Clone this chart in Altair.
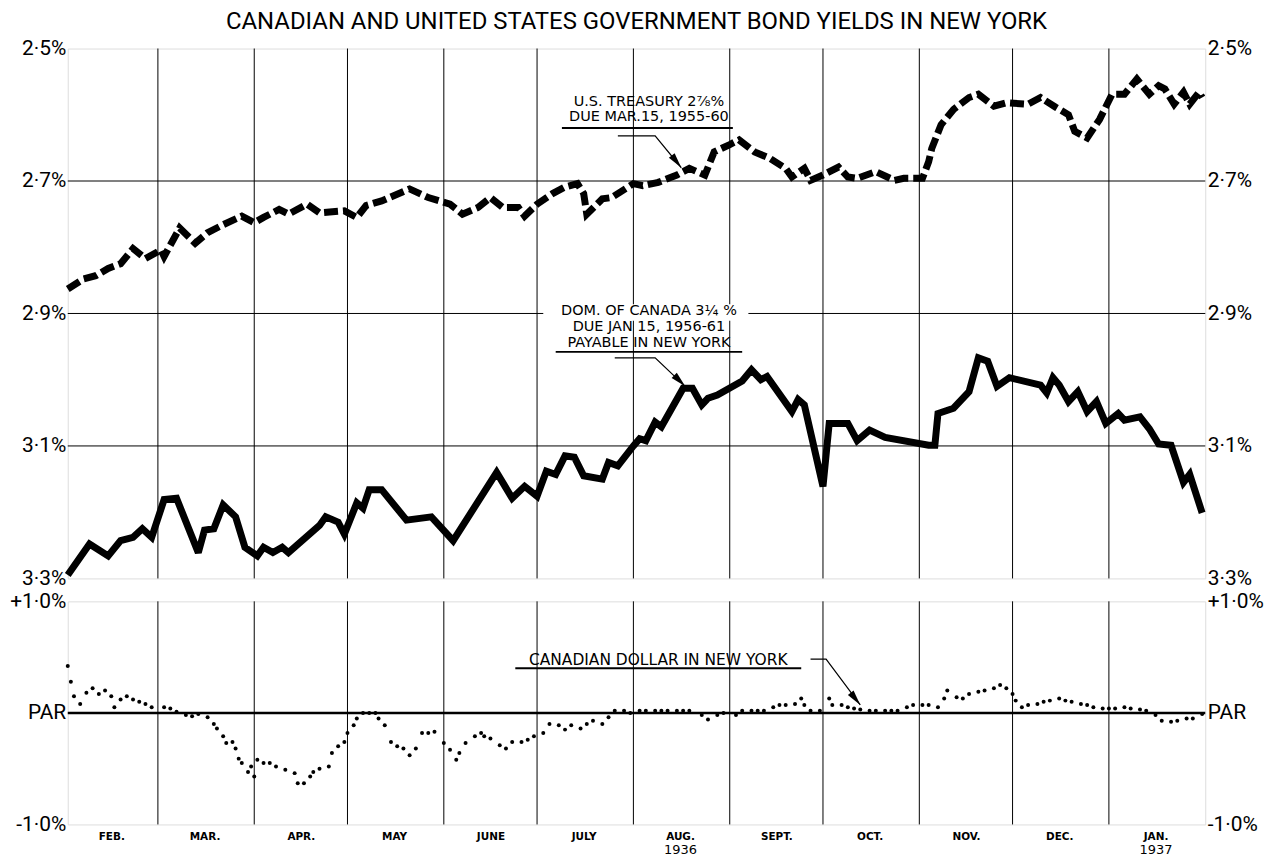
import altair as alt
import pandas as pd

TITLE = "CANADIAN AND UNITED STATES GOVERNMENT BOND YIELDS IN NEW YORK"

# U.S. Treasury 2 7/8 % (yield, %)
us_dates = ["1936-02-01", "1936-02-06", "1936-02-10", "1936-02-14", "1936-02-18", "1936-02-22", "1936-02-26",
            "1936-03-02", "1936-03-03", "1936-03-08", "1936-03-13", "1936-03-17", "1936-03-22", "1936-03-28",
            "1936-04-01", "1936-04-04", "1936-04-09", "1936-04-12", "1936-04-18", "1936-04-22", "1936-04-30",
            "1936-05-04", "1936-05-07", "1936-05-12", "1936-05-21", "1936-05-27",
            "1936-06-03", "1936-06-07", "1936-06-12", "1936-06-16", "1936-06-20", "1936-06-25", "1936-06-27",
            "1936-07-01", "1936-07-06", "1936-07-10", "1936-07-14", "1936-07-16", "1936-07-17", "1936-07-22",
            "1936-07-25", "1936-08-01",
            "1936-08-04", "1936-08-09", "1936-08-15", "1936-08-19", "1936-08-24", "1936-08-27",
            "1936-09-01", "1936-09-04", "1936-09-09", "1936-09-14", "1936-09-19", "1936-09-21", "1936-09-25",
            "1936-09-27",
            "1936-10-01", "1936-10-06", "1936-10-09", "1936-10-12", "1936-10-18", "1936-10-24", "1936-10-27",
            "1936-11-02", "1936-11-04", "1936-11-05", "1936-11-08", "1936-11-12", "1936-11-17", "1936-11-20",
            "1936-11-25", "1936-11-29",
            "1936-12-06", "1936-12-10", "1936-12-15", "1936-12-19", "1936-12-21", "1936-12-25", "1936-12-29",
            "1937-01-02", "1937-01-06", "1937-01-10", "1937-01-14", "1937-01-17", "1937-01-19", "1937-01-22",
            "1937-01-25", "1937-01-27", "1937-01-30", "1937-01-31"]
us_yield = [2.863, 2.848, 2.843, 2.832, 2.825, 2.802, 2.817,
            2.804, 2.814, 2.771, 2.794, 2.778, 2.766, 2.753,
            2.763, 2.755, 2.743, 2.750, 2.735, 2.748, 2.745,
            2.755, 2.737, 2.730, 2.712, 2.725,
            2.735, 2.750, 2.740, 2.725, 2.740, 2.740, 2.753,
            2.735, 2.719, 2.709, 2.704, 2.719, 2.750, 2.727,
            2.725, 2.704,
            2.707, 2.702, 2.691, 2.681, 2.691, 2.656,
            2.645, 2.638, 2.656, 2.666, 2.681, 2.694, 2.681,
            2.699,
            2.691, 2.679, 2.694, 2.696, 2.686, 2.699, 2.696,
            2.696, 2.671, 2.651, 2.615, 2.592, 2.574, 2.569,
            2.587, 2.582,
            2.584, 2.574, 2.589, 2.600, 2.625, 2.635, 2.607,
            2.569, 2.569, 2.546, 2.569, 2.556, 2.561, 2.584,
            2.566, 2.584, 2.566, 2.574]

# Dominion of Canada 3 1/4 % payable in New York (yield, %)
ca_dates = ["1936-02-01", "1936-02-08", "1936-02-14", "1936-02-18", "1936-02-22", "1936-02-25", "1936-02-28",
            "1936-03-03", "1936-03-07", "1936-03-14", "1936-03-16", "1936-03-19", "1936-03-22", "1936-03-26",
            "1936-03-29",
            "1936-04-02", "1936-04-04", "1936-04-07", "1936-04-10", "1936-04-12", "1936-04-22", "1936-04-24",
            "1936-04-28", "1936-04-30",
            "1936-05-04", "1936-05-06", "1936-05-08", "1936-05-12", "1936-05-20", "1936-05-28",
            "1936-06-04", "1936-06-18", "1936-06-23", "1936-06-27",
            "1936-07-01", "1936-07-04", "1936-07-07", "1936-07-10", "1936-07-13", "1936-07-16", "1936-07-22",
            "1936-07-24", "1936-07-27",
            "1936-08-01", "1936-08-03", "1936-08-05", "1936-08-08", "1936-08-10", "1936-08-17", "1936-08-20",
            "1936-08-23", "1936-08-25", "1936-08-28",
            "1936-09-05", "1936-09-08", "1936-09-11", "1936-09-13", "1936-09-21", "1936-09-23", "1936-09-25",
            "1936-10-01", "1936-10-03", "1936-10-09", "1936-10-12", "1936-10-16", "1936-10-21",
            "1936-11-04", "1936-11-06", "1936-11-07", "1936-11-12", "1936-11-17", "1936-11-20", "1936-11-23",
            "1936-11-26", "1936-11-30",
            "1936-12-10", "1936-12-12", "1936-12-14", "1936-12-16", "1936-12-19", "1936-12-22", "1936-12-25",
            "1936-12-28", "1936-12-31",
            "1937-01-04", "1937-01-06", "1937-01-11", "1937-01-14", "1937-01-17", "1937-01-21", "1937-01-25",
            "1937-01-27", "1937-01-31"]
ca_yield = [3.295, 3.248, 3.266, 3.243, 3.238, 3.225, 3.238,
            3.181, 3.179, 3.261, 3.227, 3.225, 3.189, 3.207,
            3.253,
            3.266, 3.253, 3.261, 3.253, 3.261, 3.220, 3.207,
            3.215, 3.233,
            3.186, 3.194, 3.166, 3.166, 3.212, 3.207,
            3.243, 3.140, 3.179, 3.161,
            3.176, 3.138, 3.143, 3.115, 3.117, 3.145, 3.150,
            3.125, 3.130,
            3.100, 3.089, 3.092, 3.064, 3.071, 3.013, 3.013,
            3.038, 3.028, 3.023,
            3.002, 2.985, 3.000, 2.995, 3.048, 3.030, 3.038,
            3.161, 3.066, 3.066, 3.092, 3.076, 3.087,
            3.099, 3.099, 3.051, 3.043, 3.018, 2.967, 2.972,
            3.010, 2.997,
            3.008, 3.020, 2.997, 3.008, 3.033, 3.018, 3.048,
            3.033, 3.066,
            3.051, 3.061, 3.056, 3.074, 3.097, 3.099, 3.155,
            3.143, 3.201]

# Canadian dollar in New York (premium / discount, %)
fx_dates = ["1936-02-01", "1936-02-02", "1936-02-03", "1936-02-05", "1936-02-07", "1936-02-09", "1936-02-11",
            "1936-02-13", "1936-02-15", "1936-02-16", "1936-02-18", "1936-02-20", "1936-02-22", "1936-02-24",
            "1936-02-26", "1936-02-28",
            "1936-03-03", "1936-03-05", "1936-03-07", "1936-03-10", "1936-03-12", "1936-03-14", "1936-03-17",
            "1936-03-19", "1936-03-20", "1936-03-22", "1936-03-23", "1936-03-25", "1936-03-26", "1936-03-27",
            "1936-03-28", "1936-03-30", "1936-03-31",
            "1936-04-01", "1936-04-02", "1936-04-04", "1936-04-06", "1936-04-08", "1936-04-11", "1936-04-14",
            "1936-04-15", "1936-04-17", "1936-04-19", "1936-04-20", "1936-04-22", "1936-04-25", "1936-04-26",
            "1936-04-28", "1936-04-30",
            "1936-05-01", "1936-05-03", "1936-05-04", "1936-05-06", "1936-05-08", "1936-05-10", "1936-05-11",
            "1936-05-13", "1936-05-15", "1936-05-17", "1936-05-19", "1936-05-21", "1936-05-23", "1936-05-25",
            "1936-05-27", "1936-05-29",
            "1936-06-01", "1936-06-03", "1936-06-05", "1936-06-06", "1936-06-08", "1936-06-11", "1936-06-13",
            "1936-06-14", "1936-06-16", "1936-06-19", "1936-06-21", "1936-06-23", "1936-06-26", "1936-06-28",
            "1936-06-30",
            "1936-07-03", "1936-07-05", "1936-07-08", "1936-07-10", "1936-07-12", "1936-07-15", "1936-07-17",
            "1936-07-19", "1936-07-22", "1936-07-24", "1936-07-26", "1936-07-29", "1936-07-31",
            "1936-08-03", "1936-08-05", "1936-08-08", "1936-08-10", "1936-08-12", "1936-08-15", "1936-08-17",
            "1936-08-19", "1936-08-23", "1936-08-25", "1936-08-28", "1936-08-30",
            "1936-09-03", "1936-09-05", "1936-09-08", "1936-09-10", "1936-09-12", "1936-09-15", "1936-09-17",
            "1936-09-19", "1936-09-22", "1936-09-24", "1936-09-25", "1936-09-27", "1936-09-30",
            "1936-10-03", "1936-10-04", "1936-10-07", "1936-10-09", "1936-10-11", "1936-10-13", "1936-10-16",
            "1936-10-18", "1936-10-21", "1936-10-23", "1936-10-25", "1936-10-28", "1936-10-30",
            "1936-11-02", "1936-11-04", "1936-11-07", "1936-11-09", "1936-11-10", "1936-11-13", "1936-11-15",
            "1936-11-17", "1936-11-20", "1936-11-22", "1936-11-25", "1936-11-27", "1936-11-29",
            "1936-12-01", "1936-12-02", "1936-12-04", "1936-12-06", "1936-12-09", "1936-12-11", "1936-12-13",
            "1936-12-16", "1936-12-18", "1936-12-20", "1936-12-23", "1936-12-25", "1936-12-27", "1936-12-30",
            "1937-01-01", "1937-01-03", "1937-01-06", "1937-01-08", "1937-01-11", "1937-01-13", "1937-01-16",
            "1937-01-18", "1937-01-21", "1937-01-23", "1937-01-26", "1937-01-28", "1937-01-31"]
fx_prem = [0.42, 0.28, 0.15, 0.08, 0.18, 0.22, 0.17,
           0.20, 0.15, 0.05, 0.12, 0.15, 0.12, 0.10,
           0.08, 0.05,
           0.05, 0.04, 0.01, -0.02, -0.03, -0.01, -0.04,
           -0.10, -0.14, -0.21, -0.27, -0.26, -0.32, -0.41,
           -0.45, -0.53, -0.48,
           -0.57, -0.42, -0.45, -0.45, -0.48, -0.51, -0.54,
           -0.63, -0.63, -0.57, -0.53, -0.50, -0.48, -0.36,
           -0.30, -0.26,
           -0.18, -0.11, -0.05, 0.00, 0.00, 0.00, -0.05,
           -0.11, -0.26, -0.30, -0.32, -0.38, -0.32, -0.18,
           -0.18, -0.17,
           -0.27, -0.33, -0.42, -0.36, -0.27, -0.21, -0.18,
           -0.21, -0.23, -0.29, -0.32, -0.26, -0.26, -0.24,
           -0.21,
           -0.18, -0.10, -0.11, -0.15, -0.11, -0.14, -0.10,
           -0.07, -0.10, -0.04, 0.02, 0.02, 0.00,
           0.02, 0.02, 0.02, 0.02, 0.02, 0.02, 0.02,
           0.02, -0.02, -0.06, -0.02, 0.00,
           -0.02, 0.02, 0.02, 0.02, 0.02, 0.05, 0.07,
           0.07, 0.08, 0.13, 0.07, 0.02, 0.02,
           0.13, 0.07, 0.07, 0.05, 0.04, 0.03, 0.02,
           0.02, 0.02, 0.02, 0.02, 0.05, 0.07,
           0.07, 0.07, 0.05, 0.13, 0.20, 0.14, 0.13,
           0.17, 0.19, 0.20, 0.22, 0.25, 0.22,
           0.17, 0.11, 0.05, 0.07, 0.08, 0.10, 0.11,
           0.13, 0.11, 0.10, 0.08, 0.07, 0.05, 0.04,
           0.04, 0.04, 0.05, 0.04, 0.03, 0.02, -0.02,
           -0.07, -0.08, -0.07, -0.05, -0.05, -0.01]

# axes / gridlines
month_starts = ["1936-03-01", "1936-04-01", "1936-05-01", "1936-06-01", "1936-07-01", "1936-08-01",
                "1936-09-01", "1936-10-01", "1936-11-01", "1936-12-01", "1937-01-01"]
month_mids = ["1936-02-15", "1936-03-16", "1936-04-16", "1936-05-16", "1936-06-16", "1936-07-16",
              "1936-08-16", "1936-09-16", "1936-10-16", "1936-11-16", "1936-12-16", "1937-01-16"]
month_names = ["JAN.", "FEB.", "MAR.", "APR.", "MAY", "JUNE", "JULY", "AUG.", "SEPT.", "OCT.", "NOV.", "DEC."]
year_mids = ["1936-08-16", "1937-01-16"]
top_ticks = [2.5, 2.7, 2.9, 3.1, 3.3]
top_grid = [2.7, 2.9, 3.1]
bot_ticks = [-1.0, 0.0, 1.0]
bot_labels = ["-1·0%", "PAR", "+1·0%"]

# annotations
us_label = ["U.S. TREASURY 2⅞%", "DUE MAR.15, 1955-60"]
ca_label = ["DOM. OF CANADA 3¼ %", "DUE JAN 15, 1956-61", "PAYABLE IN NEW YORK"]
fx_label = ["CANADIAN DOLLAR IN NEW YORK"]

LFONT = "Roboto, Liberation Sans, sans-serif"
AFONT = "DejaVu Sans, Verdana, sans-serif"
W, H_TOP, H_BOT = 1142, 532, 224


def dt(s):
    y, m, d = (int(v) for v in s.split("-"))
    return alt.DateTime(year=y, month=m, date=d)


XSCALE = alt.Scale(domain=[dt("1936-02-01"), dt("1937-02-01")])
YTOP = alt.Scale(domain=[2.5, 3.3], reverse=True, nice=False, zero=False)
YBOT = alt.Scale(domain=[-1.0, 1.0], nice=False, zero=False)


def X(field, axis=None):
    return alt.X(field, type="temporal", scale=XSCALE, axis=axis, title=None)


def ts(lst):
    return pd.to_datetime(lst, format="mixed")


top_lbl_expr = "replace(format(datum.value, '.1f'), '.', '·') + '%'"
bot_lbl_expr = ("datum.value == 0 ? '%s' : (datum.value > 0 ? '%s' : '%s')"
                % (bot_labels[1], bot_labels[2], bot_labels[0]))


def yaxis(orient, values, expr):
    return alt.Axis(orient=orient, values=values, labelExpr=expr, grid=False, ticks=False, domain=False,
                    labelFont=LFONT, labelFontSize=21, labelColor="black", labelPadding=2,
                    labelAlign="right" if orient == "left" else "left", labelBaseline="middle",
                    labelFlush=False, labelOverlap=False, minExtent=59, maxExtent=59, title=None)


# ---------------- top panel ----------------
us_df = pd.DataFrame({"d": ts(us_dates), "v": us_yield})
ca_df = pd.DataFrame({"d": ts(ca_dates), "v": ca_yield})
ms_df = pd.DataFrame({"d": ts(month_starts)})

vgrid_top = alt.Chart(ms_df).mark_rule(color="black", strokeWidth=1).encode(x=X("d"))
hgrid_top = alt.Chart(pd.DataFrame({"v": top_grid})).mark_rule(color="black", strokeWidth=1).encode(
    y=alt.Y("v:Q", scale=YTOP, axis=None))

white_box = alt.Chart(pd.DataFrame({"d1": ts(["1936-07-03"]), "d2": ts(["1936-09-07"]),
                                    "v1": [2.886], "v2": [2.911]})).mark_rect(color="white").encode(
    x=X("d1"), x2="d2", y=alt.Y("v1:Q", scale=YTOP, axis=None), y2="v2")

us_line = alt.Chart(us_df).mark_line(color="black", strokeWidth=7, strokeDash=[14, 5], strokeCap="butt",
                                     strokeJoin="miter").encode(
    x=X("d"), y=alt.Y("v:Q", scale=YTOP, axis=yaxis("left", top_ticks, top_lbl_expr)))
ca_line = alt.Chart(ca_df).mark_line(color="black", strokeWidth=7, strokeJoin="miter", strokeMiterLimit=3).encode(
    x=X("d"), y=alt.Y("v:Q", scale=YTOP, axis=yaxis("right", top_ticks, top_lbl_expr)))

ann_top_text = pd.DataFrame({
    "d": ts(["1936-08-06", "1936-08-06", "1936-08-06", "1936-08-06", "1936-08-06"]),
    "v": [2.580, 2.604, 2.896, 2.920, 2.944],
    "t": us_label + ca_label})
txt_top = alt.Chart(ann_top_text).mark_text(font=AFONT, fontSize=14.5, color="black", baseline="middle",
                                            align="center").encode(
    x=X("d"), y=alt.Y("v:Q", scale=YTOP, axis=None), text="t:N")

ul_top = alt.Chart(pd.DataFrame({"d1": ts(["1936-07-09", "1936-07-07"]), "d2": ts(["1936-09-02", "1936-09-05"]),
                                 "v": [2.620, 2.958]})).mark_rule(color="black", strokeWidth=1.8).encode(
    x=X("d1"), x2="d2", y=alt.Y("v:Q", scale=YTOP, axis=None))

lead_top = alt.Chart(pd.DataFrame({
    "d": ts(["1936-07-27", "1936-08-08", "1936-08-16 10:00", "1936-07-26", "1936-08-08", "1936-08-17 16:00"]),
    "v": [2.632, 2.632, 2.680, 2.967, 2.967, 3.010],
    "g": ["us", "us", "us", "ca", "ca", "ca"], "o": [0, 1, 2, 0, 1, 2]})).mark_line(
    color="black", strokeWidth=1.2).encode(x=X("d"), y=alt.Y("v:Q", scale=YTOP, axis=None), detail="g:N",
                                          order="o:Q")

ARROW = "M0,0L0.42,1.8L-0.42,1.8Z"
arr_top = alt.Chart(pd.DataFrame({"d": ts(["1936-08-16 10:00", "1936-08-17 16:00"]), "v": [2.680, 3.010],
                                  "a": [142, 135]})).mark_point(
    shape=ARROW, filled=True, size=300, color="black", opacity=1).encode(
    x=X("d"), y=alt.Y("v:Q", scale=YTOP, axis=None), angle=alt.Angle("a:Q", scale=None))

top = alt.layer(vgrid_top, hgrid_top, white_box, us_line, ca_line, txt_top, ul_top, lead_top, arr_top).resolve_axis(
    y="independent", x="independent").properties(width=W, height=H_TOP)

# ---------------- bottom panel ----------------
fx_df = pd.DataFrame({"d": ts(fx_dates), "v": fx_prem})
month_expr = "[" + ",".join("'%s'" % m for m in month_names) + "][month(datum.value)]"

vgrid_bot = alt.Chart(ms_df).mark_rule(color="black", strokeWidth=1).encode(
    x=X("d", axis=alt.Axis(orient="bottom", values=[dt(s) for s in year_mids], labelExpr="'' + year(datum.value)",
                           grid=False, ticks=False, domain=False, labelFont=AFONT, labelFontSize=13,
                           labelColor="black", labelPadding=19, labelFlush=False, labelOverlap=False)))

par = alt.Chart(pd.DataFrame({"v": [0.0]})).mark_rule(color="black", strokeWidth=2.5).encode(
    y=alt.Y("v:Q", scale=YBOT, axis=yaxis("right", bot_ticks, bot_lbl_expr)))

dots = alt.Chart(fx_df).mark_circle(color="black", size=16, opacity=1).encode(
    x=X("d", axis=alt.Axis(orient="bottom", values=[dt(s) for s in month_mids], labelExpr=month_expr, grid=False,
                           ticks=False, domain=False, labelFont=AFONT, labelFontSize=10.5, labelFontWeight="bold",
                           labelColor="black", labelPadding=7, labelFlush=False, labelOverlap=False)),
    y=alt.Y("v:Q", scale=YBOT, axis=yaxis("left", bot_ticks, bot_lbl_expr)))

txt_bot = alt.Chart(pd.DataFrame({"d": ts(["1936-08-09"]), "v": [0.473], "t": fx_label})).mark_text(
    font=AFONT, fontSize=15.5, color="black", baseline="middle", align="center").encode(
    x=X("d"), y=alt.Y("v:Q", scale=YBOT, axis=None), text="t:N")

ul_bot = alt.Chart(pd.DataFrame({"d1": ts(["1936-06-24"]), "d2": ts(["1936-09-24"]), "v": [0.40]})).mark_rule(
    color="black", strokeWidth=1.8).encode(x=X("d1"), x2="d2", y=alt.Y("v:Q", scale=YBOT, axis=None))

lead_bot = alt.Chart(pd.DataFrame({"d": ts(["1936-09-27", "1936-10-02", "1936-10-13"]), "v": [0.482, 0.482, 0.071],
                                   "o": [0, 1, 2]})).mark_line(color="black", strokeWidth=1.2).encode(
    x=X("d"), y=alt.Y("v:Q", scale=YBOT, axis=None), order="o:Q")

arr_bot = alt.Chart(pd.DataFrame({"d": ts(["1936-10-13"]), "v": [0.071], "a": [142]})).mark_point(
    shape=ARROW, filled=True, size=300, color="black", opacity=1).encode(
    x=X("d"), y=alt.Y("v:Q", scale=YBOT, axis=None), angle=alt.Angle("a:Q", scale=None))

bottom = alt.layer(vgrid_bot, par, dots, txt_bot, ul_bot, lead_bot, arr_bot).resolve_axis(
    x="independent", y="independent").properties(width=W, height=H_BOT)

chart = alt.vconcat(top, bottom, spacing=23, bounds="flush").properties(
    title=alt.TitleParams(TITLE, font=LFONT, fontSize=24, fontWeight="normal", color="black",
                          anchor="middle", offset=3),
    padding={"left": 0, "top": 0, "right": 3, "bottom": 0},
).configure_view(stroke="black", strokeWidth=1.5).configure(background="white")

chart.save("out.html", embed_options={"renderer": "svg", "actions": False})
